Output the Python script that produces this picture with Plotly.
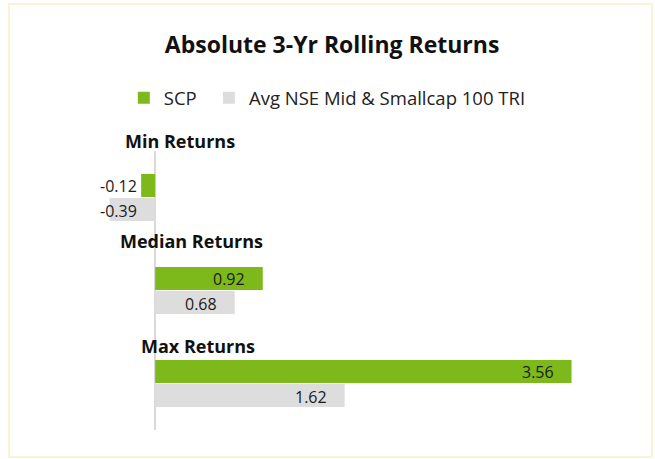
import plotly.graph_objs as go

# data
categories = ["Min Returns", "Median Returns", "Max Returns"]
scp_returns = [-0.12, 0.92, 3.56]
index_returns = [-0.39, 0.68, 1.62]
series_names = ["SCP", "Avg NSE Mid & Smallcap 100 TRI"]

GREEN = "#7db91a"
GREY = "#dddddd"
FONT = "Open Sans"

fig = go.Figure()

# each series gets its own legend box so the two entries can be spaced freely
fig.add_trace(go.Bar(
    y=categories, x=scp_returns, orientation="h",
    name=series_names[0], marker=dict(color=GREEN, line_width=0),
    hoverinfo="skip", legend="legend"
))
fig.add_trace(go.Bar(
    y=categories, x=index_returns, orientation="h",
    name=series_names[1], marker=dict(color=GREY, line_width=0),
    hoverinfo="skip", legend="legend2"
))

annotations = []

# value labels: right-aligned just inside the bar end (or left of zero for negatives)
for values, shift in [(scp_returns, 12), (index_returns, -13)]:
    for cat, v in zip(categories, values):
        annotations.append(dict(
            x=max(v, 0), y=cat, xref="x", yref="y",
            text=f"{v:.2f}", showarrow=False,
            xanchor="right", yanchor="middle",
            xshift=-16, yshift=shift,
            font=dict(family=FONT, size=16, color="#1a1a1a")
        ))

# bold category headings sitting above each pair of bars (paper y, so the
# top one is not hidden for lying above the axis range)
heading_pos = [(0.21, 1.036), (0.31, 0.677), (0.37, 0.301)]
for cat, (hx, hy) in zip(categories, heading_pos):
    annotations.append(dict(
        x=hx, y=hy, xref="x", yref="paper", text=f"<b>{cat}</b>",
        showarrow=False, xanchor="center", yanchor="middle",
        font=dict(family=FONT, size=18, color="#111111")
    ))

legend_style = dict(
    orientation="h", xref="container", yref="container",
    xanchor="left", y=0.786, yanchor="middle",
    font=dict(family=FONT, size=18.5, color="#222222"),
    bgcolor="rgba(0,0,0,0)"
)

fig.update_layout(
    width=655, height=459,
    margin=dict(l=85, r=32, t=151, b=29),
    paper_bgcolor="white", plot_bgcolor="white",
    barmode="group", bargap=0.484, bargroupgap=0.04,
    title=dict(
        text="<b>Absolute 3-Yr Rolling Returns</b>",
        x=0.507, xanchor="center", y=0.902, yanchor="middle",
        font=dict(family=FONT, size=23, color="#111111")
    ),
    legend=dict(legend_style, x=0.189),
    legend2=dict(legend_style, x=0.319),
    xaxis=dict(
        range=[-0.6, 4.0], showticklabels=False, showgrid=False,
        zeroline=True, zerolinecolor="#d9d9d9", zerolinewidth=1.5,
        fixedrange=True
    ),
    # fixed range: annotations would otherwise widen the autorange
    yaxis=dict(
        range=[2.5, -0.5], showticklabels=False, showgrid=False,
        zeroline=False, fixedrange=True
    ),
    annotations=annotations,
    shapes=[dict(
        type="rect", xref="paper", yref="paper",
        x0=(9 - 85) / 538, x1=(652 - 85) / 538,
        y0=(430 - 457) / 279, y1=(430 - 4) / 279,
        line=dict(color="#fcefc6", width=1.5), fillcolor="rgba(0,0,0,0)",
        layer="below"
    )],
    showlegend=True
)

# drop the browser's default page margin so the figure sits at the window origin
fig.write_html(
    "out.html",
    config={"displayModeBar": False},
    post_script="document.body.style.margin = '0';"
)
